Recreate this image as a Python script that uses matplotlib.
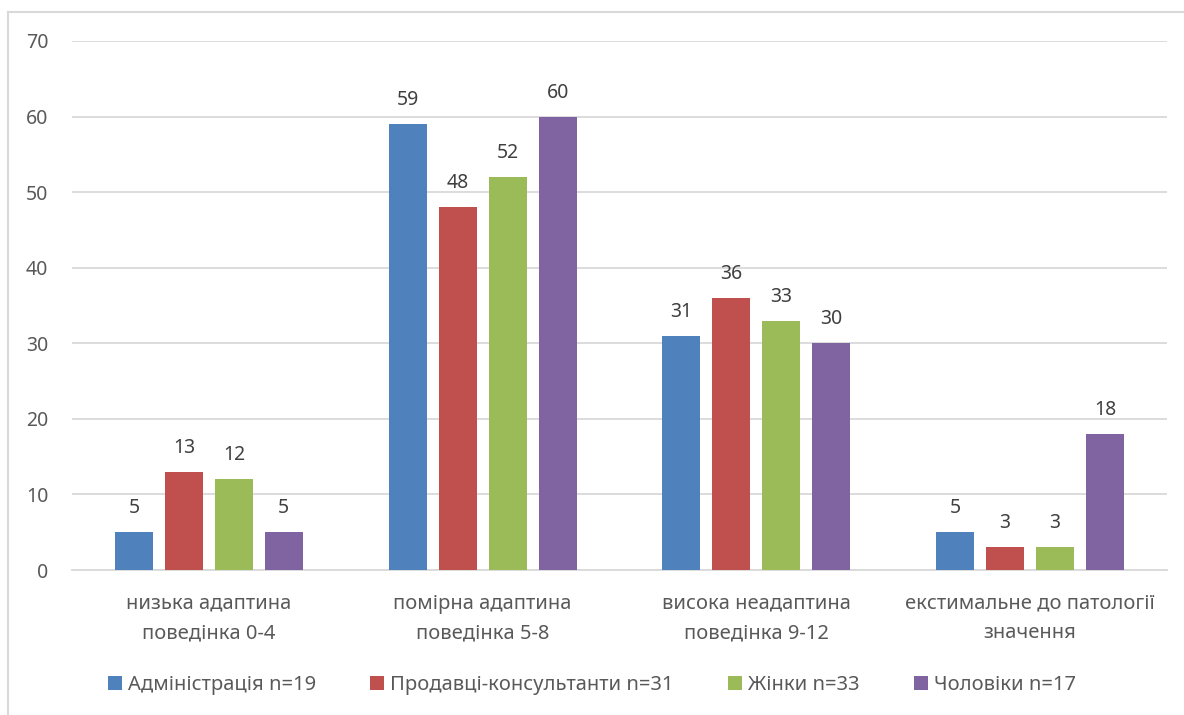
import numpy as np
import matplotlib.pyplot as plt

plt.rcParams['font.family'] = ['Noto Sans', 'DejaVu Sans']

categories = ['низька адаптина\nповедінка 0-4',
              'помірна адаптина\nповедінка 5-8',
              'висока неадаптина\nповедінка 9-12',
              'екстимальне до патології\nзначення']
series = ['Адміністрація n=19', 'Продавці-консультанти n=31',
          'Жінки n=33', 'Чоловіки n=17']
admin = [5, 59, 31, 5]
sellers = [13, 48, 36, 3]
women = [12, 52, 33, 3]
men = [5, 60, 30, 18]
colors = ['#4F81BD', '#C0504D', '#9BBB59', '#8064A2']

text_col = '#595959'
grid_col = '#D9D9D9'

fig = plt.figure(figsize=(11.84, 7.15), dpi=100)
ax = fig.add_axes([72 / 1184, 1 - 570 / 715, 1095 / 1184, 529 / 715])

x = np.arange(len(categories))
w = 0.139
step = 0.1826
for i, (vals, c, name) in enumerate(zip([admin, sellers, women, men], colors, series)):
    pos = x + (i - 1.5) * step
    bars = ax.bar(pos, vals, width=w, color=c, label=name, zorder=3)
    ax.bar_label(bars, padding=10, fontsize=14, color='#404040')

ax.set_xlim(-0.5, len(categories) - 0.5)
ax.set_ylim(0, 70)
ax.set_yticks(range(0, 71, 10))
ax.yaxis.grid(True, color=grid_col, linewidth=1.3, zorder=0)
ax.set_xticks(x)
ax.set_xticklabels(categories, fontsize=14.5, color=text_col, linespacing=1.65)
ax.tick_params(axis='both', length=0, labelsize=14, labelcolor=text_col)
ax.tick_params(axis='x', labelsize=14.5, pad=17)
ax.tick_params(axis='y', pad=17)
for s in ['top', 'right', 'left']:
    ax.spines[s].set_visible(False)
ax.spines['bottom'].set_color(grid_col)
ax.spines['bottom'].set_linewidth(1.3)

fig.legend(loc='center', bbox_to_anchor=(0.5, 1 - 685 / 715), ncol=4,
           frameon=False, fontsize=14.5, labelcolor=text_col,
           handlelength=0.7, handleheight=0.7, handletextpad=0.3,
           columnspacing=2.7)

# chart frame (left and top edges)
fig.add_artist(plt.Line2D([8 / 1184, 8 / 1184], [0, 1 - 12 / 715],
                          transform=fig.transFigure, color=grid_col, lw=1.5))
fig.add_artist(plt.Line2D([8 / 1184, 1], [1 - 12 / 715, 1 - 12 / 715],
                          transform=fig.transFigure, color=grid_col, lw=1.5))

fig.savefig('out.png', dpi=100, facecolor='white')
